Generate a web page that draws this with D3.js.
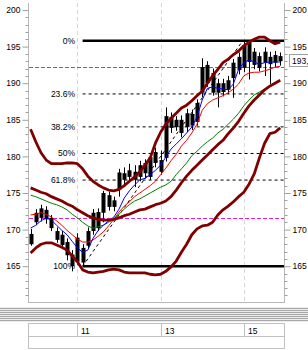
<!DOCTYPE html>
<html>
<head>
<meta charset="utf-8">
<script src="https://cdn.jsdelivr.net/npm/d3@7"></script>
<style>
  body { margin: 0; background: #fff; }
  svg { display: block; font-family: "Liberation Sans", Arial, sans-serif; font-size: 8.5px; }
</style>
</head>
<body>
<svg id="chart" width="308" height="350"></svg>
<script>
// hourly bars, 8 per day
const opens  = [168.0, 171.0, 171.6, 172.7, 171.6, 169.8, 169.3, 168.3, 166.6, 165.6,
                167.5, 167.8, 169.8, 172.4, 172.3, 174.7, 173.1, 175.5, 177.7, 177.2,
                177.9, 177.2, 177.7, 179.9, 179.1, 179.5, 179.8, 185.4, 184.0, 185.0,
                184.0, 184.2, 184.7, 188.7, 192.5, 191.4, 188.7, 190.0, 189.1, 190.7,
                191.8, 192.1, 195.6, 192.5, 193.7, 192.8, 193.6, 192.8, 193.7]
const highs  = [170.1, 172.8, 173.4, 173.2, 172.0, 170.3, 169.8, 168.8, 167.2, 169.5,
                168.0, 170.3, 172.8, 172.9, 175.3, 175.2, 174.5, 178.3, 178.5, 179.0,
                178.8, 179.4, 179.6, 180.4, 181.2, 180.8, 186.7, 186.0, 185.5, 185.6,
                186.5, 186.4, 187.8, 193.4, 193.0, 192.0, 190.6, 190.6, 191.0, 193.3,
                194.2, 195.9, 195.9, 194.8, 194.2, 194.9, 194.3, 194.4, 194.2]
const lows   = [167.8, 170.6, 171.1, 170.8, 169.8, 168.2, 167.4, 165.8, 164.3, 165.2,
                165.0, 167.5, 169.3, 169.8, 171.0, 172.6, 172.5, 174.5, 175.8, 176.5,
                175.8, 176.6, 177.0, 176.8, 178.5, 177.5, 179.3, 183.2, 183.5, 182.6,
                183.3, 183.6, 184.2, 188.1, 189.5, 188.3, 186.7, 188.2, 188.5, 188.0,
                191.2, 191.5, 190.5, 191.9, 191.6, 191.0, 189.9, 192.2, 192.4]
const closes = [169.4, 172.3, 172.9, 171.4, 170.2, 168.6, 167.9, 166.5, 165.0, 168.9,
                165.5, 169.8, 172.3, 170.2, 175.0, 173.1, 174.0, 177.8, 176.8, 178.1,
                176.8, 178.8, 179.1, 177.2, 180.6, 177.9, 185.5, 183.9, 185.0, 183.2,
                185.9, 185.8, 187.3, 192.2, 190.0, 188.7, 190.0, 188.8, 190.4, 192.8,
                193.6, 195.2, 192.9, 194.3, 192.1, 194.3, 192.6, 193.85, 193.0]

const bbUpper = [183.7, 182.0, 180.5, 179.5, 179.0, 179.0, 179.0, 179.1, 179.1, 179.0,
                 178.3, 177.3, 176.6, 176.1, 175.7, 175.4, 175.3, 175.5, 176.0, 176.6,
                 177.2, 177.9, 178.8, 179.8, 181.8, 183.3, 184.4, 185.2, 185.9, 186.6,
                 187.0, 187.6, 188.3, 188.9, 190.0, 191.0, 191.9, 192.8, 193.3, 193.9,
                 194.4, 195.1, 195.6, 196.0, 196.3, 196.3, 195.8, 195.4, 195.6]
const bbMiddle = [175.7, 175.4, 175.1, 174.9, 174.5, 174.2, 173.9, 173.5, 173.2, 172.7,
                  172.3, 171.9, 171.6, 171.4, 171.3, 171.3, 171.4, 171.6, 171.9, 172.1,
                  172.4, 172.7, 172.8, 173.1, 173.4, 173.6, 173.9, 174.5, 175.4, 176.4,
                  177.3, 178.1, 178.8, 179.5, 180.2, 180.9, 181.6, 182.2, 183.1, 183.9,
                  184.8, 185.9, 186.9, 187.7, 188.4, 189.1, 189.6, 190.0, 190.4]
const bbLower = [166.8, 167.5, 168.0, 168.2, 168.2, 167.9, 167.6, 167.2, 166.4, 165.6,
                 164.5, 164.2, 164.1, 164.2, 164.3, 164.5, 164.6, 164.5, 164.2, 164.1,
                 164.1, 164.1, 164.1, 163.9, 163.8, 163.9, 164.3, 164.9, 165.7, 166.9,
                 168.0, 169.3, 170.1, 170.5, 170.6, 171.0, 172.0, 172.7, 173.2, 173.8,
                 174.5, 175.1, 176.2, 177.6, 179.8, 181.8, 183.1, 183.3, 183.9]

const maFast = [170.2, 170.6, 171.2, 171.6, 171.3, 170.6, 169.9, 169.3, 168.4, 167.5,
                166.9, 167.2, 168.8, 169.9, 170.6, 171.2, 171.7, 172.8, 174.3, 175.3,
                176.1, 176.8, 177.0, 177.5, 178.1, 178.8, 179.9, 181.0, 181.7, 182.4,
                183.2, 184.0, 185.4, 187.7, 189.3, 189.5, 189.3, 189.2, 189.1, 189.9,
                191.9, 192.8, 193.2, 192.9, 192.6, 192.8, 192.9, 192.9, 192.9]
const maMid  = [172.0, 172.1, 172.3, 172.1, 171.7, 171.2, 170.6, 169.9, 169.3, 168.7,
                168.3, 168.3, 168.6, 169.1, 169.7, 170.5, 171.4, 172.4, 173.2, 173.8,
                174.5, 175.0, 175.5, 176.0, 176.6, 177.5, 178.4, 179.4, 180.3, 181.4,
                182.2, 183.2, 184.4, 186.3, 187.2, 187.7, 188.0, 188.3, 188.7, 189.2,
                189.9, 191.0, 191.4, 191.5, 191.5, 191.7, 191.9, 192.2, 192.3]
const maSlow = [174.7, 174.5, 174.2, 173.9, 173.6, 173.4, 173.1, 172.7, 172.1, 171.6,
                171.0, 170.5, 170.2, 170.4, 170.6, 171.0, 171.4, 172.1, 172.8, 173.4,
                173.9, 174.2, 174.6, 175.0, 175.4, 175.8, 176.1, 176.6, 177.5, 178.3,
                179.1, 180.1, 180.7, 181.4, 182.0, 182.5, 183.2, 183.7, 184.4, 185.1,
                185.9, 186.9, 187.7, 188.4, 188.8, 189.2, 189.5, 189.9, 190.3]

const dayLabels = ['11', '13', '15']
const dayStartBar = [9, 25, 41]

const fibRatios = [0, 0.236, 0.382, 0.5, 0.618, 1]
const fibLabels = ['0%', '23.6%', '38.2%', '50%', '61.8%', '100%']
const fibHigh = 195.8
const fibLow = 165.0
const fibStartBar = 10
const trendEndBar = 40.8

const refLines = [192.17, 171.55]
const lastPriceLabel = '193,'
const yMajor = [165, 170, 175, 180, 185, 190, 195, 200]

const bars = d3.range(closes.length)

const svg = d3.select('#chart')
const plotLeft = 28
const plotRight = 284
const plotTop = 3
const plotBottom = 302

const x = d3.scaleLinear().domain([-0.5, 48.73]).range([plotLeft, plotRight])
const y = d3.scaleLinear().domain([160, 201]).range([302.8, 2.68])

// day grid
svg.append('g')
  .selectAll('line')
  .data(dayStartBar)
  .enter()
  .append('line')
  .attr('x1', d => Math.round(x(d)) + 0.5)
  .attr('x2', d => Math.round(x(d)) + 0.5)
  .attr('y1', plotTop)
  .attr('y2', plotBottom)
  .attr('stroke', '#d8d8d8')
  .attr('stroke-dasharray', '4,3')

// axes
const yLeft = d3.axisLeft(y).tickValues(yMajor).tickSize(6).tickFormat(d3.format('d'))
const yRight = d3.axisRight(y).tickValues(yMajor).tickSize(6).tickFormat(d3.format('d'))
const minorVals = d3.range(161, 201).filter(v => v % 5 !== 0)

const gl = svg.append('g').attr('transform', `translate(${plotLeft + 0.5},0)`).call(yLeft)
gl.select('.domain').attr('stroke', '#b8b8b8').attr('d', `M0,${plotTop}V${plotBottom}`)
gl.selectAll('.tick line').attr('stroke', '#a0a0a0')
gl.selectAll('.tick text').attr('x', -8).attr('fill', '#000').attr('font-size', '8.5px')
gl.selectAll('.minor').data(minorVals).enter().append('line')
  .attr('x1', -3).attr('x2', 0)
  .attr('y1', d => Math.round(y(d)) + 0.5).attr('y2', d => Math.round(y(d)) + 0.5)
  .attr('stroke', '#a0a0a0')

const gr = svg.append('g').attr('transform', `translate(${plotRight + 0.5},0)`).call(yRight)
gr.select('.domain').attr('stroke', '#b8b8b8').attr('d', `M0,${plotTop}V${plotBottom}`)
gr.selectAll('.tick line').attr('stroke', '#a0a0a0')
gr.selectAll('.tick text').attr('x', 8).attr('fill', '#000').attr('font-size', '8.5px')
gr.selectAll('.minor').data(minorVals).enter().append('line')
  .attr('x1', 0).attr('x2', 3)
  .attr('y1', d => Math.round(y(d)) + 0.5).attr('y2', d => Math.round(y(d)) + 0.5)
  .attr('stroke', '#a0a0a0')

svg.append('line')
  .attr('x1', plotLeft).attr('x2', plotRight + 1)
  .attr('y1', plotBottom + 0.5).attr('y2', plotBottom + 0.5)
  .attr('stroke', '#b8b8b8')

// fibonacci levels
const fibY = fibRatios.map(r => fibHigh - (fibHigh - fibLow) * r)
const fg = svg.append('g')
fg.selectAll('line')
  .data(fibRatios)
  .enter()
  .append('line')
  .attr('x1', x(fibStartBar))
  .attr('x2', plotRight)
  .attr('y1', (d, i) => y(fibY[i]))
  .attr('y2', (d, i) => y(fibY[i]))
  .attr('stroke', '#000')
  .attr('stroke-width', d => (d === 0 || d === 1) ? 2.5 : 1)
  .attr('stroke-dasharray', d => (d === 0 || d === 1) ? null : '3,3')
fg.selectAll('text')
  .data(fibLabels)
  .enter()
  .append('text')
  .attr('x', 75)
  .attr('y', (d, i) => y(fibY[i]))
  .attr('dy', '0.35em')
  .attr('text-anchor', 'end')
  .text(d => d)

// magenta reference lines
svg.append('g')
  .selectAll('line')
  .data(refLines)
  .enter()
  .append('line')
  .attr('x1', plotLeft + 1)
  .attr('x2', plotRight)
  .attr('y1', d => Math.round(y(d)) + 0.5)
  .attr('y2', d => Math.round(y(d)) + 0.5)
  .attr('stroke', '#e020e0')
  .attr('stroke-dasharray', '4,2')

// trend line low -> high
svg.append('line')
  .attr('x1', x(fibStartBar)).attr('y1', y(fibLow))
  .attr('x2', x(trendEndBar)).attr('y2', y(fibHigh))
  .attr('stroke', '#000')
  .attr('stroke-dasharray', '3,3')

// candles
const cg = svg.append('g')
cg.selectAll('.wick')
  .data(bars)
  .enter()
  .append('line')
  .attr('x1', d => Math.round(x(d)) + 0.5)
  .attr('x2', d => Math.round(x(d)) + 0.5)
  .attr('y1', d => y(highs[d]))
  .attr('y2', d => y(lows[d]))
  .attr('stroke', '#000')
cg.selectAll('.body')
  .data(bars)
  .enter()
  .append('rect')
  .attr('x', d => Math.round(x(d)) - 1.5)
  .attr('width', 4)
  .attr('y', d => y(Math.max(opens[d], closes[d])))
  .attr('height', d => Math.max(1, Math.abs(y(opens[d]) - y(closes[d]))))
  .attr('fill', '#000')

// indicator lines
const lineGen = arr => d3.line().x(d => x(d)).y(d => y(arr[d]))(bars)
const series = [
  { values: maSlow, color: '#008000', width: 1 },
  { values: maMid, color: '#ff0000', width: 1 },
  { values: maFast, color: '#0000ff', width: 1 },
  { values: bbUpper, color: '#800000', width: 2.8 },
  { values: bbMiddle, color: '#800000', width: 2.8 },
  { values: bbLower, color: '#800000', width: 2.8 }
]
svg.append('g')
  .selectAll('path')
  .data(series)
  .enter()
  .append('path')
  .attr('d', d => lineGen(d.values))
  .attr('fill', 'none')
  .attr('stroke', d => d.color)
  .attr('stroke-width', d => d.width)
  .attr('stroke-linejoin', 'round')

// last price box
const lastY = y(closes[closes.length - 1])
svg.append('rect')
  .attr('x', 289.5).attr('y', Math.round(lastY) - 6.5)
  .attr('width', 24).attr('height', 12)
  .attr('fill', '#fff').attr('stroke', '#a0a0a0')
svg.append('text')
  .attr('x', 292).attr('y', lastY)
  .attr('dy', '0.35em')
  .text(lastPriceLabel)

// separator
svg.append('rect').attr('x', 0).attr('y', 307).attr('width', 308).attr('height', 15).attr('fill', '#ececec')
svg.append('g')
  .selectAll('line')
  .data(d3.range(308, 322, 2))
  .enter()
  .append('line')
  .attr('x1', 0).attr('x2', 308)
  .attr('y1', d => d + 0.5).attr('y2', d => d + 0.5)
  .attr('stroke', '#a8a8a8')

// time axis box
const tb = svg.append('g')
tb.append('rect')
  .attr('x', plotLeft + 0.5).attr('y', 323.5)
  .attr('width', plotRight - plotLeft).attr('height', 25)
  .attr('fill', '#fff').attr('stroke', '#c0c0c0')
tb.append('line')
  .attr('x1', plotLeft).attr('x2', plotRight)
  .attr('y1', 336.5).attr('y2', 336.5)
  .attr('stroke', '#c0c0c0')
tb.selectAll('.sep')
  .data(dayStartBar)
  .enter()
  .append('line')
  .attr('x1', d => Math.round(x(d)) + 0.5)
  .attr('x2', d => Math.round(x(d)) + 0.5)
  .attr('y1', 323.5).attr('y2', 336.5)
  .attr('stroke', '#c0c0c0')
tb.selectAll('text')
  .data(dayLabels)
  .enter()
  .append('text')
  .attr('x', (d, i) => Math.round(x(dayStartBar[i])) + 4)
  .attr('y', 333.5)
  .text(d => d)
</script>
</body>
</html>
